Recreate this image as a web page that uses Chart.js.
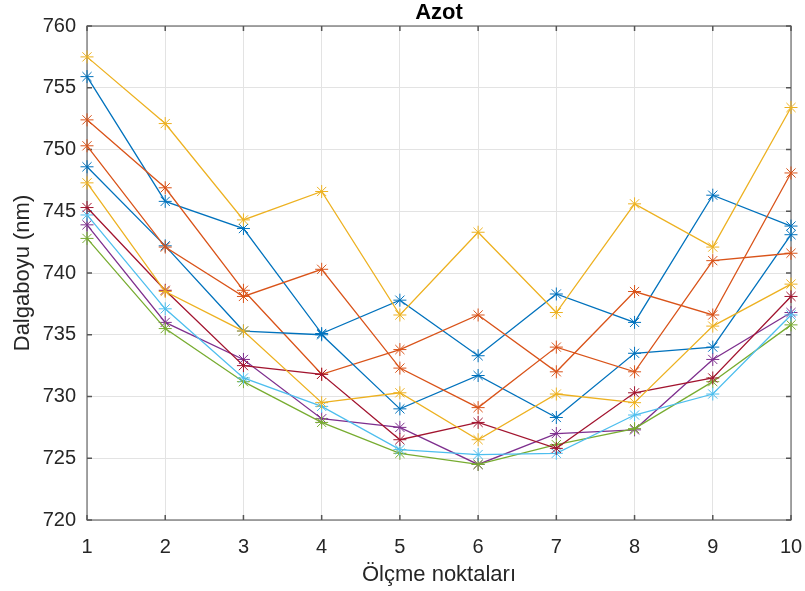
<!DOCTYPE html>
<html>
<head>
<meta charset="utf-8">
<script src="https://cdn.jsdelivr.net/npm/chart.js@4/dist/chart.umd.min.js"></script>
<style>
  html, body { margin: 0; padding: 0; background: #ffffff; }
  #wrap { width: 805px; height: 591px; }
</style>
</head>
<body>
<div id="wrap"><canvas id="c" width="805" height="591"></canvas></div>
<script>
// Measurement points (x axis)
const points = [1, 2, 3, 4, 5, 6, 7, 8, 9, 10];

// Y axis ticks (nm)
const yTicks = [720, 725, 730, 735, 740, 745, 750, 755, 760];

// Wavelength readings per run (nm)
const run1 = [755.9, 745.8, 743.6, 735.1, 737.8, 733.3, 738.3, 736.0, 746.3, 743.8];
const run2 = [752.4, 746.9, 738.6, 731.8, 733.8, 736.6, 732.0, 738.5, 736.6, 748.1];
const run3 = [757.5, 752.1, 744.3, 746.6, 736.6, 743.3, 736.8, 745.6, 742.1, 753.4];
const run4 = [743.9, 736.0, 733.0, 728.2, 727.5, 724.5, 727.0, 727.3, 733.0, 736.8];
const run5 = [742.8, 735.5, 731.2, 727.9, 725.4, 724.5, 726.1, 727.4, 731.2, 735.8];
const run6 = [744.7, 737.1, 731.5, 729.2, 725.7, 725.3, 725.4, 728.5, 730.2, 736.6];
const run7 = [745.3, 738.6, 732.5, 731.8, 726.5, 727.9, 725.8, 730.3, 731.5, 738.1];
const run8 = [748.6, 742.2, 735.3, 735.0, 729.0, 731.7, 728.3, 733.5, 734.0, 743.1];
const run9 = [750.3, 742.1, 738.1, 740.3, 732.3, 729.1, 734.0, 732.0, 741.0, 741.6];
const run10 = [747.3, 738.5, 735.3, 729.5, 730.3, 726.5, 730.2, 729.5, 735.7, 739.1];

const runs = [run1, run2, run3, run4, run5, run6, run7, run8, run9, run10];
const colors = ['#0072BD', '#D95319', '#EDB120', '#7E2F8E', '#77AC30',
                '#4DBEEE', '#A2142F', '#0072BD', '#D95319', '#EDB120'];

const FONT = '"Liberation Sans", Arial, Helvetica, sans-serif';
const TEXT = '#262626';

const datasets = runs.map((vals, i) => ({
  data: vals.map((v, k) => ({ x: points[k], y: v })),
  borderColor: colors[i],
  backgroundColor: colors[i],
  borderWidth: 1.3,
  pointStyle: 'star',
  pointRadius: 6.5,
  pointBorderWidth: 1,
  pointBorderColor: colors[i],
  pointHoverRadius: 6.5,
  tension: 0,
  fill: false,
  clip: false,
  order: runs.length - i   // later runs are drawn on top
}));

// Axes box with inward tick marks on all four sides
const boxPlugin = {
  id: 'box',
  beforeDatasetsDraw(chart) {
    const { ctx, chartArea: a, scales } = chart;
    ctx.save();
    ctx.strokeStyle = '#6b6b6b';
    ctx.lineWidth = 1.2;
    ctx.strokeRect(a.left, a.top, a.right - a.left, a.bottom - a.top);
    ctx.strokeStyle = '#555555';
    ctx.lineWidth = 1.5;
    const tl = 5;
    ctx.beginPath();
    points.forEach(v => {
      const px = scales.x.getPixelForValue(v);
      ctx.moveTo(px, a.bottom); ctx.lineTo(px, a.bottom - tl);
      ctx.moveTo(px, a.top); ctx.lineTo(px, a.top + tl);
    });
    yTicks.forEach(v => {
      const py = scales.y.getPixelForValue(v);
      ctx.moveTo(a.left, py); ctx.lineTo(a.left + tl, py);
      ctx.moveTo(a.right, py); ctx.lineTo(a.right - tl, py);
    });
    ctx.stroke();
    ctx.restore();
  },
  afterDraw(chart) {
    const { ctx, chartArea: a } = chart;
    const cx = (a.left + a.right) / 2;
    ctx.save();
    ctx.fillStyle = '#000000';
    ctx.textAlign = 'center';
    ctx.textBaseline = 'middle';
    ctx.font = 'bold 22px ' + FONT;
    ctx.fillText('Azot', cx, 13);
    ctx.fillStyle = TEXT;
    ctx.font = '22px ' + FONT;
    ctx.fillText('Ölçme noktaları', cx, 575);
    ctx.translate(23, (a.top + a.bottom) / 2);
    ctx.rotate(-Math.PI / 2);
    ctx.fillText('Dalgaboyu (nm)', 0, 0);
    ctx.restore();
  }
};

new Chart(document.getElementById('c'), {
  type: 'line',
  data: { datasets },
  options: {
    responsive: false,
    devicePixelRatio: 1,
    animation: false,
    events: [],
    layout: { padding: { top: 26, right: 4, left: 0, bottom: 0 } },
    plugins: {
      legend: { display: false },
      title: { display: false },
      tooltip: { enabled: false }
    },
    scales: {
      x: {
        type: 'linear',
        min: 1, max: 10,
        afterFit(s) { s.height = 71; s.paddingRight = 14; },
        afterBuildTicks(s) { s.ticks = points.map(v => ({ value: v })); },
        border: { display: false },
        grid: { color: '#e3e3e3', lineWidth: 1, drawTicks: false },
        ticks: {
          padding: 15,
          color: TEXT,
          font: { family: FONT, size: 20 },
          maxRotation: 0,
          autoSkip: false
        }
      },
      y: {
        type: 'linear',
        min: 720, max: 760,
        afterFit(s) { s.width = 87; },
        afterBuildTicks(s) { s.ticks = yTicks.map(v => ({ value: v })); },
        border: { display: false },
        grid: { color: '#e3e3e3', lineWidth: 1, drawTicks: false },
        ticks: {
          padding: 11,
          color: TEXT,
          font: { family: FONT, size: 20 },
          autoSkip: false
        }
      }
    }
  },
  plugins: [boxPlugin]
});
</script>
</body>
</html>
